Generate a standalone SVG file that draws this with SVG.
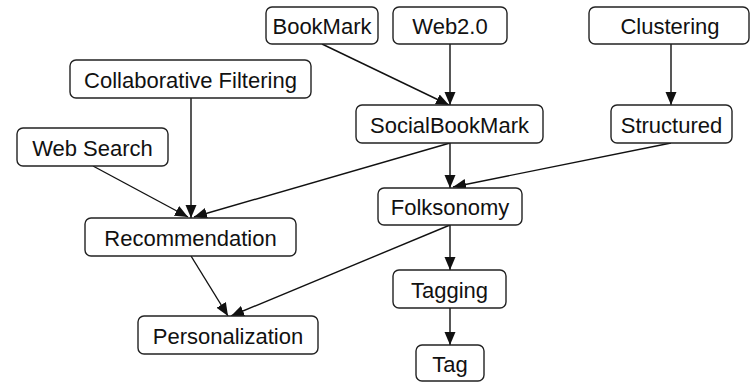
<svg xmlns="http://www.w3.org/2000/svg" width="751" height="382" viewBox="0 0 751 382">
<style>
.n rect{fill:#fff;stroke:#222;stroke-width:1.4}
.n text{font-family:"Liberation Sans",Arial,sans-serif;font-size:22px;fill:#111;text-anchor:middle}
.e line{stroke:#111;stroke-width:1.4;marker-end:url(#a)}
</style>
<defs>
<marker id="a" markerUnits="userSpaceOnUse" markerWidth="14" markerHeight="12" refX="13" refY="6" orient="auto">
<path d="M0,0.5 L13,6 L0,11.5 z" fill="#111"/>
</marker>
</defs>
<rect width="751" height="382" fill="#fff"/>
<g id="edges" class="e">
<line x1="322" y1="44" x2="449" y2="105"/>
<line x1="450" y1="44" x2="450" y2="105"/>
<line x1="671" y1="44" x2="671" y2="105"/>
<line x1="450" y1="143" x2="450" y2="188"/>
<line x1="671" y1="143" x2="453" y2="187"/>
<line x1="450" y1="143" x2="194" y2="217"/>
<line x1="191" y1="98" x2="191" y2="218"/>
<line x1="93" y1="166" x2="188" y2="217"/>
<line x1="191" y1="256" x2="228" y2="316"/>
<line x1="450" y1="225" x2="231" y2="316"/>
<line x1="450" y1="225" x2="450" y2="270"/>
<line x1="450" y1="308" x2="450" y2="345"/>
</g>
<g id="bookmark" class="n"><rect x="266" y="7" width="112" height="37" rx="6"/><text x="322" y="34">BookMark</text></g>
<g id="web20" class="n"><rect x="393" y="7" width="114" height="37" rx="6"/><text x="450" y="34">Web2.0</text></g>
<g id="clustering" class="n"><rect x="589" y="7" width="160" height="37" rx="6"/><text x="670" y="34">Clustering</text></g>
<g id="collab" class="n"><rect x="70" y="60" width="241" height="38" rx="6"/><text x="190.5" y="87.5">Collaborative Filtering</text></g>
<g id="websearch" class="n"><rect x="17" y="128" width="151" height="38" rx="6"/><text x="92.5" y="155.5">Web Search</text></g>
<g id="socialbookmark" class="n"><rect x="356" y="105" width="187" height="38" rx="6"/><text x="449.5" y="132.5">SocialBookMark</text></g>
<g id="structured" class="n"><rect x="611" y="105" width="121" height="38" rx="6"/><text x="671.5" y="132.5">Structured</text></g>
<g id="folksonomy" class="n"><rect x="378" y="188" width="144" height="37" rx="6"/><text x="450" y="214.5">Folksonomy</text></g>
<g id="recommendation" class="n"><rect x="85" y="218" width="211" height="38" rx="6"/><text x="190.5" y="245.5">Recommendation</text></g>
<g id="personalization" class="n"><rect x="138" y="316" width="180" height="38" rx="6"/><text x="228" y="343.5">Personalization</text></g>
<g id="tagging" class="n"><rect x="393" y="270" width="113" height="38" rx="6"/><text x="449.5" y="297.5">Tagging</text></g>
<g id="tag" class="n"><rect x="416" y="345" width="68" height="36" rx="6"/><text x="450" y="371.5">Tag</text></g>
</svg>
